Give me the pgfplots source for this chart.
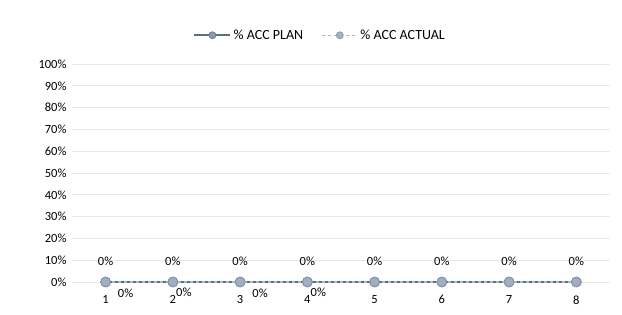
\documentclass[border=0pt]{standalone}
\usepackage{pgfplots}
\pgfplotsset{compat=1.18}
\usepackage{fontspec}
\setmainfont{Carlito}
\definecolor{plan}{HTML}{5B6F84}
\definecolor{actual}{HTML}{A9B8C8}
\definecolor{mk}{HTML}{8A9BB0}
\begin{document}
\begin{tikzpicture}[x=1pt,y=1pt]
\useasboundingbox (0,0) rectangle (622,315);
\begin{axis}[
  at={(72pt,33pt)}, anchor=south west,
  scale only axis, width=538pt, height=218pt,
  xmin=0.5, xmax=8.5, ymin=0, ymax=1,
  xtick={1,...,8},
  ytick={0,0.1,...,1.0},
  yticklabels={0\%,10\%,20\%,30\%,40\%,50\%,60\%,70\%,80\%,90\%,100\%},
  /pgf/number format/assume math mode=true,
  ymajorgrids, grid style={gray!18, line width=0.8pt},
  axis line style={draw=none},
  tick style={draw=none},
  ticklabel style={font=\fontsize{12.5}{14}\selectfont, text=black},
  yticklabel style={xshift=-2pt},
  xticklabel style={yshift=-10pt},
  clip=false,
  legend style={at={(0.5,1.0)}, anchor=south, yshift=19pt, xshift=-21pt, draw=none, fill=none,
    font=\fontsize{14}{16}\selectfont, legend columns=2,
    /tikz/every even column/.append style={column sep=16pt}},
  legend image code/.code={
    \draw[#1] (0pt,0pt) -- (36pt,0pt);
    \draw[#1, only marks, mark size=3.5pt] plot coordinates {(18pt,0pt)};
  },
]
\addplot[plan, line width=2.4pt, mark=*, mark size=5pt,
  mark options={fill=mk, draw=mk!80!black, line width=0.8pt},
  nodes near coords={0\%}, every node near coord/.append style={font=\fontsize{12.5}{14}\selectfont, text=black, yshift=13pt}]
coordinates {(1,0) (2,0) (3,0) (4,0) (5,0) (6,0) (7,0) (8,0)};
\addlegendentry{\% ACC PLAN}
\addplot[actual, line width=1.3pt, dashed, mark=*, mark size=4.6pt,
  mark options={solid, fill=mk!80, draw=mk, line width=0.8pt}]
coordinates {(1,0) (2,0) (3,0) (4,0) (5,0) (6,0) (7,0) (8,0)};
\addlegendentry{\% ACC ACTUAL}
\addplot[draw=none, mark=none, forget plot, nodes near coords={0\%},
  every node near coord/.append style={font=\fontsize{12.5}{14}\selectfont, text=black, anchor=center, xshift=20pt, yshift=-11pt}]
coordinates {(1,0) (3,0)};
\addplot[draw=none, mark=none, forget plot, nodes near coords={0\%},
  every node near coord/.append style={font=\fontsize{12.5}{14}\selectfont, text=black, anchor=center, xshift=11pt, yshift=-10pt}]
coordinates {(2,0) (4,0)};
\end{axis}
\end{tikzpicture}
\end{document}
